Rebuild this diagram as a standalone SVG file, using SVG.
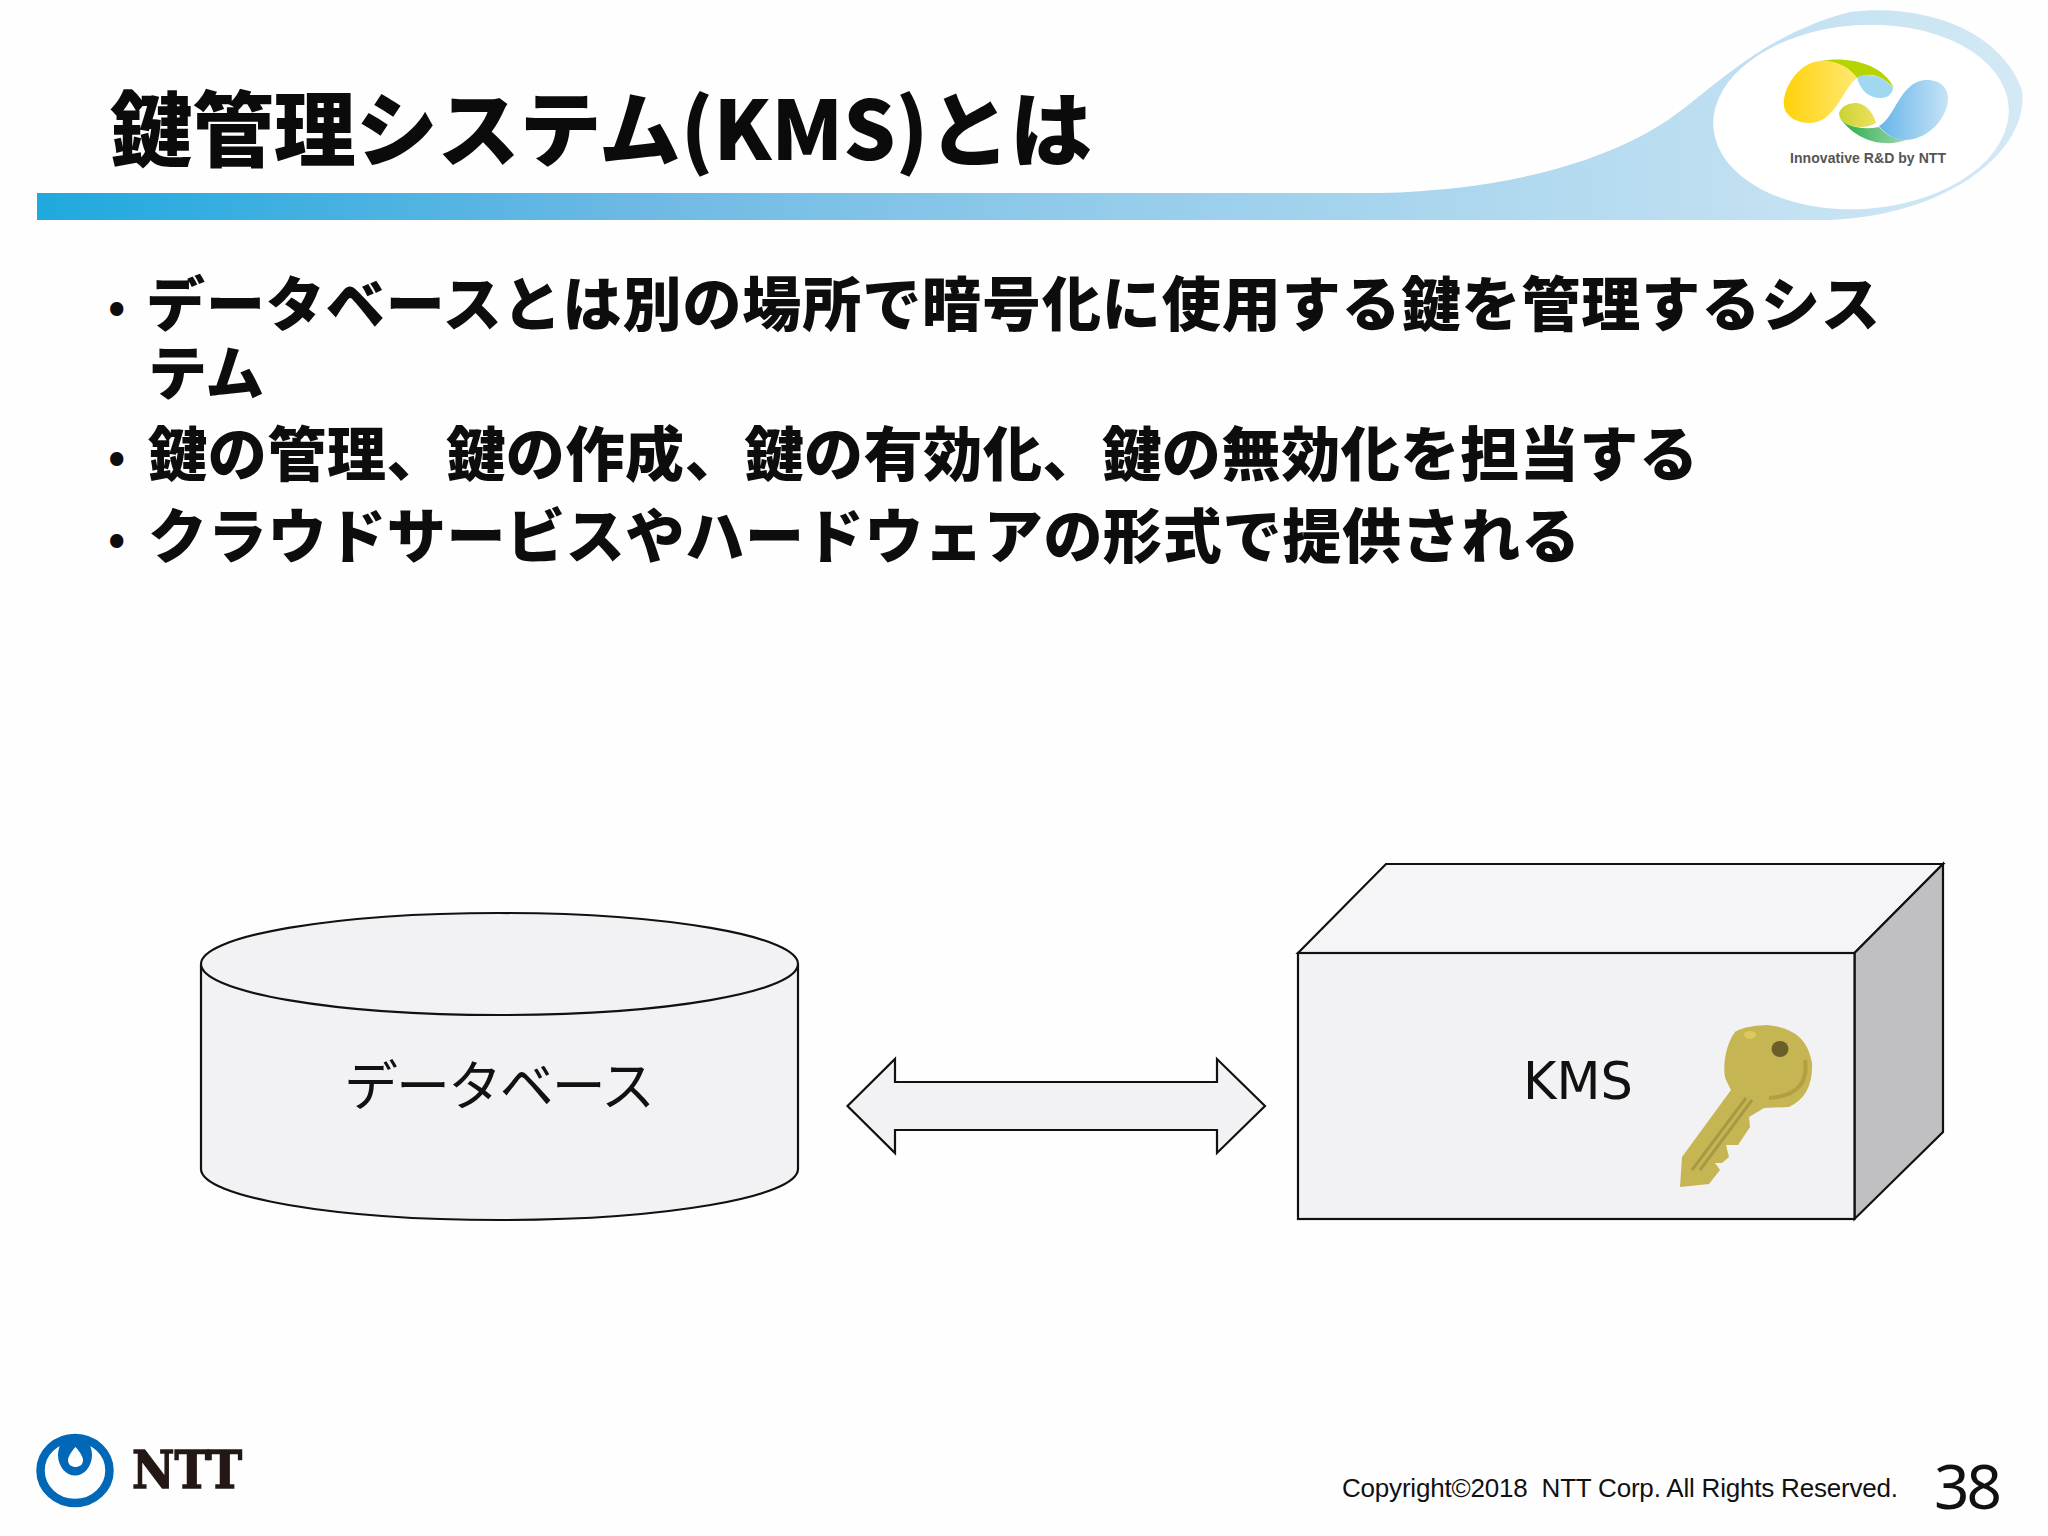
<svg xmlns="http://www.w3.org/2000/svg" width="2048" height="1536" viewBox="0 0 2048 1536">
<style>
.shape{fill:#f2f1f4;stroke:#111;stroke-width:2.2;stroke-linejoin:miter}
.body{font-family:"Noto Sans CJK JP","Liberation Sans",sans-serif;font-weight:900;font-size:59px;fill:#0d0d0d}
.dot{font-family:"Noto Sans CJK JP","Liberation Sans",sans-serif;font-weight:700;font-size:46px;fill:#0d0d0d}
.label{font-family:"Noto Sans CJK JP","Noto Sans",sans-serif;font-size:54px;fill:#111}
</style>
<defs>
<linearGradient id="band" gradientUnits="userSpaceOnUse" x1="37" y1="0" x2="2030" y2="0">
<stop offset="0" stop-color="#1fa9de"/><stop offset=".3" stop-color="#6db9e4"/><stop offset=".55" stop-color="#96cdeb"/><stop offset=".8" stop-color="#b8dcf0"/><stop offset="1" stop-color="#d4e9f5"/>
</linearGradient>
<linearGradient id="yel" x1="0" y1="0" x2="1" y2="0"><stop offset="0" stop-color="#ffd20a"/><stop offset="1" stop-color="#ffe873"/></linearGradient>
<linearGradient id="blu" x1="0" y1="0" x2="1" y2="0"><stop offset="0" stop-color="#66b5ea"/><stop offset="1" stop-color="#c6e3f5"/></linearGradient>
<linearGradient id="grn" x1="0" y1="0" x2="1" y2="0"><stop offset="0" stop-color="#23ab3c"/><stop offset="1" stop-color="#9fd6b4"/></linearGradient>
<linearGradient id="ygr" x1="0" y1="0" x2="1" y2="0"><stop offset="0" stop-color="#c8d432"/><stop offset="1" stop-color="#f0e060"/></linearGradient>
</defs>
<rect width="2048" height="1536" fill="#fefefe"/>

<g id="header">
<path d="M37 193H1380C1500 190 1600 165 1668 120C1710 92 1760 35 1850 12C1920 3 2000 28 2022 90C2030 150 1950 215 1830 220H37Z" fill="url(#band)"/>
<ellipse cx="1861" cy="117" rx="148" ry="92" transform="rotate(-4 1861 117)" fill="#fff"/>
<text x="110" y="160" font-family="'Noto Sans CJK JP',sans-serif" font-weight="900" font-size="82" fill="#0b0b0b" textLength="982">鍵管理システム(KMS)とは</text>
</g>

<g id="logo-innovative">
<path d="M1820 61C1845 56 1882 62 1894 88C1880 74 1868 72 1857 78C1850 68 1838 61 1820 61Z" fill="#b5d400"/>
<path d="M1820 61C1838 60 1850 68 1857 78C1843 88 1835 123 1810 123C1792 123 1782 112 1784 100C1786 82 1802 62 1820 61Z" fill="url(#yel)"/>
<path d="M1857 77C1868 72 1884 76 1893 88C1892 95 1886 98 1881 98C1868 98 1860 90 1857 77Z" fill="#9fd8f0"/>
<path d="M1839 117C1848 128 1864 130 1879 127C1885 134 1895 140 1906 140C1890 146 1860 146 1839 117Z" fill="url(#grn)"/>
<path d="M1839 113C1842 105 1850 103 1857 103C1868 105 1874 115 1876 123C1868 128 1855 128 1846 124C1842 121 1839 117 1839 113Z" fill="url(#ygr)"/>
<path d="M1879 126C1895 118 1900 82 1925 80C1940 79 1949 88 1948 100C1946 122 1925 140 1905 140C1895 140 1885 134 1879 126Z" fill="url(#blu)"/>
<text x="1790" y="163" font-family="'Liberation Sans',sans-serif" font-size="14" font-weight="700" fill="#555" textLength="156">Innovative R&amp;D by NTT</text>
</g>

<g id="bullets">
<text class="dot" x="108" y="323">•</text>
<text class="body" x="146" y="326" textLength="1734">データベースとは別の場所で暗号化に使用する鍵を管理するシス</text>
<text class="body" x="148" y="395">テム</text>
<text class="dot" x="108" y="473">•</text>
<text class="body" x="148" y="476" textLength="1550">鍵の管理、鍵の作成、鍵の有効化、鍵の無効化を担当する</text>
<text class="dot" x="108" y="555">•</text>
<text class="body" x="148" y="558" textLength="1432">クラウドサービスやハードウェアの形式で提供される</text>
</g>

<g id="node-database">
<path class="shape" d="M201 964V1169C201 1197 335 1220 499.500 1220C664 1220 798 1197 798 1169V964"/>
<ellipse class="shape" cx="499.500" cy="964" rx="298.500" ry="51"/>
<text class="label" x="344" y="1106" textLength="311">データベース</text>
</g>

<g id="connectors">
<path class="shape" d="M847.500 1106L895 1059V1082H1217V1059L1265 1106L1217 1153V1130H895V1153Z"/>
</g>

<g id="node-kms">
<path class="shape" d="M1298 953L1386 864H1943L1854.500 953Z" style="fill:#f5f4f7"/>
<path d="M1854.500 953L1943 864V1132L1854.500 1219Z" fill="#c0c0c2" stroke="#111" stroke-width="2.200"/>
<rect class="shape" x="1298" y="953" width="556.500" height="266"/>
<text x="1523" y="1099" font-family="'DejaVu Sans',sans-serif" font-size="51" fill="#111">KMS</text>
<g id="key">
<path d="M1731 1090L1682 1157L1680 1187L1709 1184L1720 1170L1715 1163L1722 1163L1729 1157L1726 1145L1738 1145L1750 1127L1749 1117L1764 1108L1789 1107C1805 1100 1813 1085 1812 1063C1808 1040 1795 1028 1767 1025C1745 1026 1738 1030 1735 1032C1725 1045 1722 1070 1726 1080Z" fill="#c6b653"/>
<path d="M1746 1098L1692 1170M1752 1100L1700 1170" stroke="#a89a45" stroke-width="3" fill="none"/>
<path d="M1805 1060C1808 1080 1800 1096 1769 1098" stroke="#b0a042" stroke-width="4" fill="none"/>
<ellipse cx="1780" cy="1049" rx="8.500" ry="8" fill="#6a5e2a"/>
<ellipse cx="1750" cy="1035" rx="6" ry="4" fill="#dcc95c"/>
</g>
</g>

<g id="logo-ntt">
<ellipse cx="75" cy="1470.500" rx="34.500" ry="32.500" fill="none" stroke="#0068b7" stroke-width="8.500"/>
<ellipse cx="75" cy="1455" rx="17" ry="20.500" fill="#0068b7"/>
<path d="M75.500 1447C80 1452 83 1457 83 1460C83 1465 79 1467 75.500 1467C72 1467 68 1465 68 1460C68 1457 71 1452 75.500 1447Z" fill="#fff"/>
<text x="132" y="1488" font-family="'DejaVu Serif',serif" font-weight="700" font-size="52" fill="#231815" stroke="#231815" stroke-width="1.500" textLength="110" lengthAdjust="spacingAndGlyphs">NTT</text>
</g>

<g id="footer">
<text x="1342" y="1497" font-family="'Liberation Sans',sans-serif" font-size="26" fill="#111" textLength="556" style="white-space:pre">Copyright©2018  NTT Corp. All Rights Reserved.</text>
<text x="1934" y="1509" font-family="'Noto Sans',sans-serif" font-size="62" fill="#111" textLength="68">38</text>
</g>
</svg>
